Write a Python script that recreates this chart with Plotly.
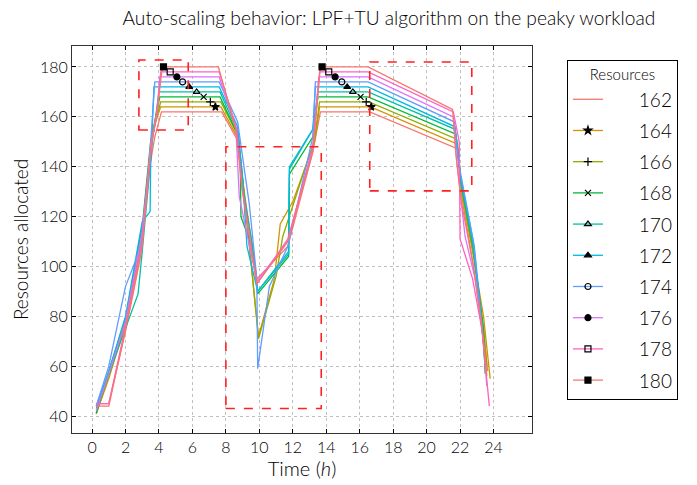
import plotly.graph_objects as go

# ---------------- data ----------------
levels = [162, 164, 166, 168, 170, 172, 174, 176, 178, 180]
labels = ["162", "164", "166", "168", "170", "172", "174", "176", "178", "180"]
colors = ["#F8766D", "#D39200", "#93AA00", "#00BA38", "#00C19F",
          "#00B9E3", "#619CFF", "#DB72FB", "#FF61C3", "#F8766D"]
symbols = [None, "star", "cross-thin", "x-thin", "triangle-up-open",
           "triangle-up", "circle-open", "circle", "square-open", "square"]

t_162 = [0.25, 1.0, 2.0, 2.9, 3.4, 3.75, 4.15, 7.75, 8.75, 9.05, 9.85, 11.7, 13.2, 13.65, 16.6, 21.9, 22.1, 22.8, 23.4, 23.65]
v_162 = [45, 45, 74, 104, 138, 152, 162, 162, 150, 132, 95, 108, 146, 162, 162, 147, 128, 100, 74, 58]

t_164 = [0.25, 1.0, 2.0, 3.0, 3.5, 3.8, 4.1, 7.7, 8.75, 9.1, 9.95, 10.9, 11.25, 12.0, 13.3, 13.6, 16.65, 21.85, 22.1, 22.8, 23.4, 23.8]
v_164 = [41, 55, 77, 112, 148, 158, 164, 164, 151, 128, 72, 95, 117, 126, 150, 164, 164, 149, 130, 104, 80, 55]

t_166 = [0.25, 1.0, 2.0, 3.0, 3.55, 3.9, 4.1, 7.7, 8.75, 9.15, 9.95, 11.0, 11.4, 13.3, 13.6, 16.55, 21.8, 22.1, 22.8, 23.4, 23.6]
v_166 = [41, 56, 78, 114, 151, 160, 166, 166, 152, 126, 71, 96, 112, 151, 166, 166, 151, 131, 105, 76, 60]

t_168 = [0.25, 1.0, 2.0, 3.0, 3.5, 3.8, 4.05, 7.65, 8.7, 8.86, 8.9, 9.6, 9.9, 11.75, 11.8, 13.2, 13.5, 16.5, 21.75, 22.05, 22.8, 23.4, 23.5]
v_168 = [41, 58, 79, 116, 150, 160, 168, 168, 153, 140, 120, 107, 89, 104, 137, 152, 168, 168, 153, 134, 107, 74, 57]

t_170 = [0.25, 1.0, 2.0, 2.75, 3.0, 3.6, 4.0, 7.65, 8.7, 9.05, 9.6, 9.9, 11.75, 11.8, 13.2, 13.5, 16.5, 21.7, 22.0, 22.8, 23.35, 23.5]
v_170 = [43, 57, 75, 89, 106, 150, 170, 170, 154, 130, 108, 90, 105, 139, 155, 170, 170, 155, 136, 107, 74, 59]

t_172 = [0.25, 1.0, 2.0, 3.0, 3.47, 3.5, 3.7, 7.6, 8.7, 9.0, 9.26, 9.9, 11.75, 11.8, 13.2, 13.35, 16.5, 21.7, 22.0, 22.85, 23.3, 23.5]
v_172 = [44, 58, 80, 118, 122, 140, 172, 172, 156, 135, 108, 90, 106, 140, 155, 172, 172, 156, 137, 108, 78, 61]

t_174 = [0.25, 1.0, 2.0, 2.87, 3.3, 3.6, 3.75, 7.6, 8.7, 9.4, 9.85, 9.9, 10.6, 11.7, 13.2, 13.35, 16.5, 21.65, 21.9, 22.8, 23.2, 23.5]
v_174 = [44, 60, 92, 107, 130, 160, 174, 174, 158, 125, 95, 59, 92, 108, 152, 174, 174, 158, 142, 110, 82, 62]

t_176 = [0.25, 1.0, 2.0, 3.0, 3.5, 3.85, 4.05, 7.6, 8.6, 8.8, 9.85, 11.7, 13.2, 13.55, 16.5, 21.6, 21.8, 22.3, 22.9, 23.4, 23.6]
v_176 = [42, 57, 78, 114, 148, 160, 176, 176, 155, 128, 94, 110, 148, 176, 176, 160, 142, 112, 95, 70, 52]

t_178 = [0.25, 1.0, 2.0, 3.0, 3.6, 3.9, 4.1, 7.6, 8.65, 9.0, 9.85, 11.7, 13.2, 13.6, 16.5, 21.6, 21.95, 22.0, 22.75, 23.3, 23.75]
v_178 = [45, 45, 76, 110, 152, 162, 178, 178, 155, 130, 93, 111, 147, 178, 178, 162, 150, 111, 95, 75, 44]

t_180 = [0.25, 1.0, 2.0, 3.0, 3.55, 3.9, 4.2, 7.55, 8.6, 8.95, 9.85, 11.7, 13.2, 13.65, 16.5, 21.55, 21.75, 22.1, 22.8, 23.3, 23.6]
v_180 = [44, 44, 75, 108, 150, 163, 180, 180, 155, 132, 93, 110, 146, 180, 180, 163, 145, 125, 100, 76, 56]

# marker positions (time) on the first and second peak, for 164..180
marker_t_peak1 = [None, 7.37, 7.07, 6.67, 6.25, 5.81, 5.41, 5.07, 4.67, 4.27]
marker_t_peak2 = [None, 16.69, 16.39, 16.05, 15.59, 15.25, 14.93, 14.53, 14.15, 13.75]

# highlighted regions (x0, x1, y0, y1)
box_x0 = [2.8, 8.0, 16.6]
box_x1 = [5.75, 13.7, 22.7]
box_y0 = [154.7, 43.0, 130.3]
box_y1 = [182.8, 148.0, 182.0]

x_ticks = list(range(0, 25, 2))
y_ticks = list(range(40, 181, 20))

series_t = [t_162, t_164, t_166, t_168, t_170, t_172, t_174, t_176, t_178, t_180]
series_v = [v_162, v_164, v_166, v_168, v_170, v_172, v_174, v_176, v_178, v_180]

# ---------------- figure ----------------
FONT = "Lato"
W = 300
MSIZE = 6
fig = go.Figure()

for i in range(len(levels)):
    fig.add_trace(go.Scatter(x=series_t[i], y=series_v[i], mode="lines",
                             line=dict(color=colors[i], width=1.3),
                             showlegend=False, hoverinfo="skip"))

for i in range(len(levels)):
    if symbols[i] is None:
        continue
    fig.add_trace(go.Scatter(
        x=[marker_t_peak1[i], marker_t_peak2[i]], y=[levels[i], levels[i]],
        mode="markers",
        marker=dict(symbol=symbols[i], color="black", size=MSIZE,
                    line=dict(color="black", width=1.2)),
        showlegend=False, hoverinfo="skip"))

# legend entries
for i in range(len(levels)):
    name = "\u2002\u2002\u2002\u2009" + labels[i]
    if symbols[i] is None:
        fig.add_trace(go.Scatter(x=[None], y=[None], mode="lines", name=name,
                                 line=dict(color=colors[i], width=1.3),
                                 legendgroup=labels[i]))
    else:
        fig.add_trace(go.Scatter(x=[None], y=[None], mode="lines+markers", name=name,
                                 line=dict(color=colors[i], width=1.3),
                                 marker=dict(symbol=symbols[i], color="black", size=MSIZE,
                                             line=dict(color="black", width=1.2)),
                                 legendgroup=labels[i]))

for x0, x1, y0, y1 in zip(box_x0, box_x1, box_y0, box_y1):
    fig.add_shape(type="rect", xref="x", yref="y", x0=x0, x1=x1, y0=y0, y1=y1,
                  line=dict(color="#ff2020", width=1.6, dash="dash"),
                  fillcolor="rgba(0,0,0,0)", layer="above")

axis_common = dict(showline=True, linecolor="#333333", linewidth=1, mirror="ticks",
                   ticks="inside", ticklen=4, tickcolor="black",
                   showgrid=True, gridcolor="#c0c0c0", griddash="dot", gridwidth=1,
                   zeroline=False, tickfont=dict(family=FONT, size=16, color="black", weight=W))

fig.update_layout(
    width=697, height=485,
    margin=dict(l=72, r=165, t=46, b=52),
    paper_bgcolor="white", plot_bgcolor="white",
    title=dict(text="Auto-scaling behavior: LPF+TU algorithm on the peaky workload",
               x=0.558, xref="container", xanchor="center", y=0.963, yanchor="middle",
               font=dict(family=FONT, size=19.2, color="black", weight=W)),
    xaxis=dict(range=[-1.2, 26.3], tickvals=x_ticks,
               title=dict(text="Time (<i>h</i>)",
                          font=dict(family=FONT, size=20, color="black", weight=W),
                          standoff=4),
               **axis_common),
    yaxis=dict(range=[33.2, 188.4], tickvals=y_ticks,
               title=dict(text="Resources allocated",
                          font=dict(family=FONT, size=19, color="black", weight=W),
                          standoff=6),
               **axis_common),
    legend=dict(x=1.076, y=0.964, xanchor="left", yanchor="top",
                bordercolor="black", borderwidth=1, bgcolor="white",
                font=dict(family=FONT, size=19, color="black", weight=W),
                title=dict(text="Resources", side="top center",
                           font=dict(family=FONT, size=15, color="black", weight=W)),
                tracegroupgap=3.5),
)

fig.write_html("out.html")
